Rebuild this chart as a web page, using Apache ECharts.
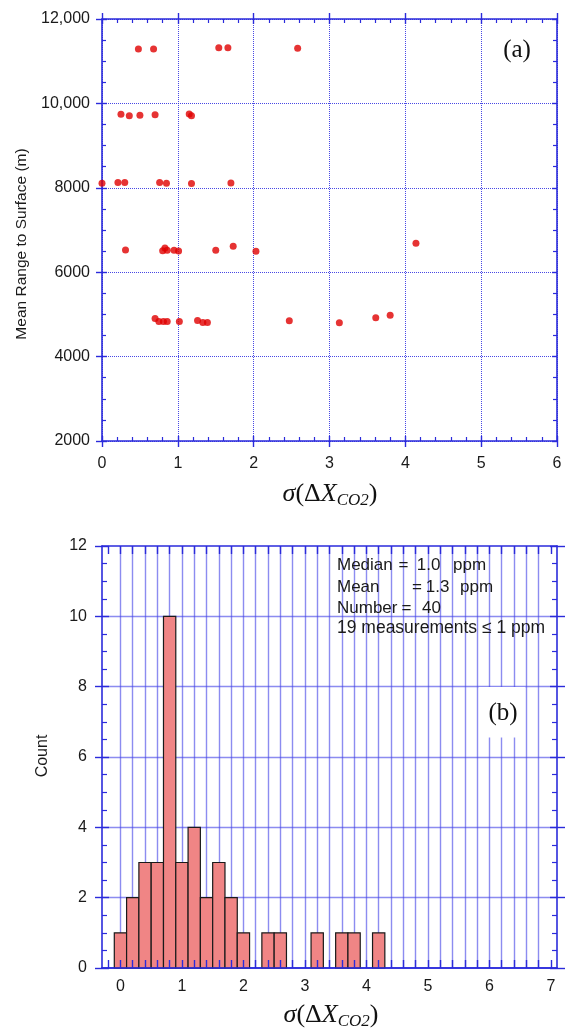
<!DOCTYPE html>
<html><head><meta charset="utf-8">
<script src="https://cdn.jsdelivr.net/npm/echarts@6/dist/echarts.min.js"></script>
<style>html,body{margin:0;padding:0;background:#fff}#c{width:568px;height:1032px}</style>
</head><body><div id="c"></div>
<script>
// ---------- Panel (a): scatter ----------
const sigmaA = [0.48, 0.68, 1.54, 1.66, 2.58,
  0.25, 0.36, 0.50, 0.70, 1.15, 1.18,
  0.00, 0.21, 0.30, 0.76, 0.85, 1.18, 1.70,
  0.31, 0.80, 0.83, 0.86, 0.95, 1.01, 1.50, 1.73, 2.03, 4.14,
  0.70, 0.75, 0.81, 0.86, 1.02, 1.26, 1.33, 1.39, 2.47, 3.13, 3.61, 3.80];
const rangeA = [11290, 11290, 11320, 11320, 11305,
  9745, 9710, 9720, 9730, 9750, 9705,
  8110, 8125, 8125, 8125, 8110, 8100, 8115,
  6525, 6510, 6575, 6520, 6520, 6505, 6520, 6615, 6495, 6685,
  4905, 4830, 4830, 4830, 4830, 4855, 4810, 4810, 4850, 4800, 4920, 4980];
const topYTickValues = [2000, 4000, 6000, 8000, 10000, 12000];
const topYTickLabels = ['2000', '4000', '6000', '8000', '10,000', '12,000'];

// ---------- Panel (b): histogram ----------
const binCenters = [0, 0.2, 0.4, 0.6, 0.8, 1.0, 1.2, 1.4, 1.6, 1.8, 2.0, 2.4, 2.6, 3.2, 3.6, 3.8, 4.2];
const binCounts  = [1, 2, 3, 3, 10, 3, 4, 2, 3, 2, 1, 1, 1, 1, 1, 1, 1];
const binWidth = 0.2;
const botXLabelValues = [0, 1, 2, 3, 4, 5, 6, 7];
const botXTickValues = [-0.2, 0, 0.2, 0.4, 0.6, 0.8, 1, 1.2, 1.4, 1.6, 1.8, 2, 2.2, 2.4, 2.6, 2.8, 3, 3.2, 3.4, 3.6, 3.8, 4, 4.2, 4.4, 4.6, 4.8, 5, 5.2, 5.4, 5.6, 5.8, 6, 6.2, 6.4, 6.6, 6.8, 7];
const statsLines = [
  [['Median', 0], ['=', 61.5], ['1.0', 79.7], ['ppm', 116]],
  [['Mean', 0], ['=', 75], ['1.3', 88.7], ['ppm', 123]],
  [['Number', 0], ['=', 64.5], ['40', 85]],
  [['19 measurements ≤ 1 ppm', 0]]
];

const BLUE = '#2b2bdb';
const SANS = 'Liberation Sans, Arial, sans-serif';
const SERIF = 'Liberation Serif, Times New Roman, serif';
const LABEL = '#1a1a1a';

const chart = echarts.init(document.getElementById('c'), null, {renderer: 'canvas'});

const G_TOP = {left: 102, top: 19, width: 455, height: 422, outerBoundsMode: 'none', containLabel: false};
const G_BOT = {left: 102, top: 546, width: 455, height: 422, outerBoundsMode: 'none', containLabel: false};

function line(w) { return {show: true, onZero: false, lineStyle: {color: BLUE, width: w}}; }
const noLine = {show: false, onZero: false};
const noLabel = {show: false};
const noSplit = {show: false};

const topX = {type: 'value', min: 0, max: 6, interval: 1};
const topY = {type: 'value', min: 2000, max: 12000, interval: 2000};
const botX = {type: 'value', min: -0.3, max: 7.1, interval: 0.2};
const botY = {type: 'value', min: 0, max: 12, interval: 2};

const dotted = {show: true, lineStyle: {color: 'rgba(40,40,225,0.85)', width: 1, type: [1, 1]}};
const lavender = {show: true, showMinLine: false, showMaxLine: false, lineStyle: {color: 'rgba(70,70,230,0.62)', width: 1.4}};

function fmtInt(v) {
  const r = Math.round(v);
  return (Math.abs(v - r) < 1e-6 && botXLabelValues.indexOf(r) >= 0) ? String(r) : '';
}
const tk = (inside, len, w) => ({show: true, inside: inside, length: len, lineStyle: {color: BLUE, width: w || 1.4}});

const xAxes = [
  // 0: top panel bottom, labels
  Object.assign({}, topX, {gridIndex: 0, position: 'bottom', axisLine: line(1.6),
    axisTick: tk(false, 6),
    axisLabel: {show: true, margin: 15, fontSize: 16, fontFamily: SANS, color: LABEL},
    splitLine: dotted}),
  // 1: top panel top
  Object.assign({}, topX, {gridIndex: 0, position: 'top', axisLine: line(1.6),
    axisTick: tk(false, 6), axisLabel: noLabel, splitLine: noSplit}),
  // 2: top panel bottom minor inside
  Object.assign({}, topX, {gridIndex: 1, position: 'bottom', axisLine: noLine,
    axisTick: tk(true, 5),
    minorTick: {show: true, splitNumber: 5, length: 4, lineStyle: {color: BLUE, width: 1.2}},
    axisLabel: noLabel, splitLine: noSplit}),
  // 3: top panel top minor inside
  Object.assign({}, topX, {gridIndex: 1, position: 'top', axisLine: noLine,
    axisTick: tk(true, 5),
    minorTick: {show: true, splitNumber: 5, length: 4, lineStyle: {color: BLUE, width: 1.2}},
    axisLabel: noLabel, splitLine: noSplit}),
  // 4: bottom panel bottom (labels + grid lines)
  Object.assign({}, botX, {gridIndex: 2, position: 'bottom', axisLine: line(1.6),
    axisTick: {show: false, customValues: botXTickValues},
    axisLabel: {show: true, margin: 11, fontSize: 16, fontFamily: SANS, color: LABEL,
      customValues: botXLabelValues, formatter: fmtInt},
    splitLine: lavender}),
  // 5: bottom panel top
  Object.assign({}, botX, {gridIndex: 2, position: 'top', axisLine: line(1.6),
    axisTick: Object.assign(tk(true, 8), {customValues: botXTickValues}),
    axisLabel: noLabel, splitLine: noSplit}),
  // 6: bottom panel bottom, ticks over bars
  Object.assign({}, botX, {gridIndex: 3, position: 'bottom', z: 10, axisLine: line(1.6),
    axisTick: Object.assign(tk(true, 8), {customValues: botXTickValues}),
    axisLabel: noLabel, splitLine: noSplit}),
  // 7: hidden
  Object.assign({}, botX, {gridIndex: 3, position: 'top', show: false, axisLine: noLine})
];

const yAxes = [
  // 0: top panel left labels
  Object.assign({}, topY, {gridIndex: 0, position: 'left', axisLine: line(1.6),
    axisTick: tk(false, 6),
    axisLabel: {show: true, margin: 12, fontSize: 16, fontFamily: SANS, color: LABEL,
      formatter: v => { const i = topYTickValues.indexOf(v); return i >= 0 ? topYTickLabels[i] : ''; }},
    splitLine: dotted}),
  // 1: top panel right
  Object.assign({}, topY, {gridIndex: 0, position: 'right', axisLine: line(1.6),
    axisTick: {show: false}, axisLabel: noLabel, splitLine: noSplit}),
  // 2: top left minor inside
  Object.assign({}, topY, {gridIndex: 1, position: 'left', axisLine: noLine,
    axisTick: tk(true, 5),
    minorTick: {show: true, splitNumber: 4, length: 4, lineStyle: {color: BLUE, width: 1.2}},
    axisLabel: noLabel, splitLine: noSplit}),
  // 3: top right minor inside
  Object.assign({}, topY, {gridIndex: 1, position: 'right', axisLine: noLine,
    axisTick: tk(true, 5),
    minorTick: {show: true, splitNumber: 4, length: 4, lineStyle: {color: BLUE, width: 1.2}},
    axisLabel: noLabel, splitLine: noSplit}),
  // 4: bottom panel left labels
  Object.assign({}, botY, {gridIndex: 2, position: 'left', axisLine: line(1.6),
    axisTick: tk(false, 7),
    axisLabel: {show: true, margin: 15, fontSize: 16, fontFamily: SANS, color: LABEL},
    splitLine: lavender}),
  // 5: bottom panel right
  Object.assign({}, botY, {gridIndex: 2, position: 'right', axisLine: line(1.6),
    axisTick: tk(false, 8), axisLabel: noLabel, splitLine: noSplit}),
  // 6: bottom left inside
  Object.assign({}, botY, {gridIndex: 3, position: 'left', z: 10, axisLine: noLine,
    axisTick: tk(true, 7),
    minorTick: {show: true, splitNumber: 4, length: 5, lineStyle: {color: BLUE, width: 1.2}},
    axisLabel: noLabel, splitLine: noSplit}),
  // 7: bottom right inside
  Object.assign({}, botY, {gridIndex: 3, position: 'right', z: 10, axisLine: noLine,
    axisTick: tk(true, 7),
    minorTick: {show: true, splitNumber: 4, length: 5, lineStyle: {color: BLUE, width: 1.2}},
    axisLabel: noLabel, splitLine: noSplit})
];

const scatterData = sigmaA.map((s, i) => [s, rangeA[i]]);
const histData = binCenters.map((c, i) => [c, binCounts[i]]);

const titleRich = {
  si: {fontFamily: SERIF, fontStyle: 'italic', fontSize: 26, lineHeight: 30, fill: '#111', verticalAlign: 'middle'},
  n: {fontFamily: SERIF, fontSize: 26, lineHeight: 30, fill: '#111', verticalAlign: 'middle'},
  i: {fontFamily: SERIF, fontStyle: 'italic', fontSize: 26, lineHeight: 30, fill: '#111', verticalAlign: 'middle'},
  s: {fontFamily: SERIF, fontStyle: 'italic', fontSize: 17, lineHeight: 14, fill: '#111', verticalAlign: 'bottom'}
};
const titleText = '{si|σ}{n|(Δ}{i|X}{s|CO2}{n|)}';

const graphics = [
  {type: 'text', x: 22, y: 244, rotation: Math.PI / 2, z: 5,
    style: {text: 'Mean Range to Surface (m)', fontFamily: SANS, fontSize: 15.5, fill: LABEL, align: 'center', verticalAlign: 'middle'}},
  {type: 'text', x: 43, y: 756, rotation: Math.PI / 2, z: 5,
    style: {text: 'Count', fontFamily: SANS, fontSize: 16, fill: LABEL, align: 'center', verticalAlign: 'middle'}},
  {type: 'text', x: 330, y: 494, z: 5, style: {text: titleText, rich: titleRich, align: 'center', verticalAlign: 'middle'}},
  {type: 'text', x: 331, y: 1015, z: 5, style: {text: titleText, rich: titleRich, align: 'center', verticalAlign: 'middle'}},
  {type: 'text', x: 517, y: 50, z: 5, style: {text: '(a)', fontFamily: SERIF, fontSize: 25, fill: '#111', align: 'center', verticalAlign: 'middle'}},
  {type: 'rect', z: 3, shape: {x: 479, y: 687, width: 46, height: 50.5}, style: {fill: '#fff'}},
  {type: 'text', x: 503, y: 713, z: 5, style: {text: '(b)', fontFamily: SERIF, fontSize: 25, fill: '#111', align: 'center', verticalAlign: 'middle'}}
];
const statY = [565, 587, 608, 628];
statsLines.forEach((ln, li) => {
  ln.forEach(([t, dx]) => {
    graphics.push({type: 'text', x: 337 + dx, y: statY[li], z: 5,
      style: {text: t, fontFamily: SANS, fontSize: li === 3 ? 17.5 : 17, fill: LABEL, align: 'left', verticalAlign: 'middle'}});
  });
});

chart.setOption({
  animation: false,
  backgroundColor: '#fff',
  grid: [G_TOP, G_TOP, G_BOT, G_BOT],
  xAxis: xAxes,
  yAxis: yAxes,
  series: [
    {type: 'scatter', xAxisIndex: 0, yAxisIndex: 0, data: scatterData, symbolSize: 7,
      itemStyle: {color: '#e00000'}, z: 4},
    {type: 'custom', xAxisIndex: 4, yAxisIndex: 4, data: histData, z: 4,
      renderItem: (params, api) => {
        const c = api.value(0), n = api.value(1);
        const p0 = api.coord([c - binWidth / 2, n]);
        const p1 = api.coord([c + binWidth / 2, 0]);
        return {type: 'rect', shape: {x: p0[0], y: p0[1], width: p1[0] - p0[0], height: p1[1] - p0[1]},
          style: {fill: '#f08585', stroke: '#1a1a1a', lineWidth: 1.2}};
      }}
  ],
  graphic: graphics
});
</script>
</body></html>
